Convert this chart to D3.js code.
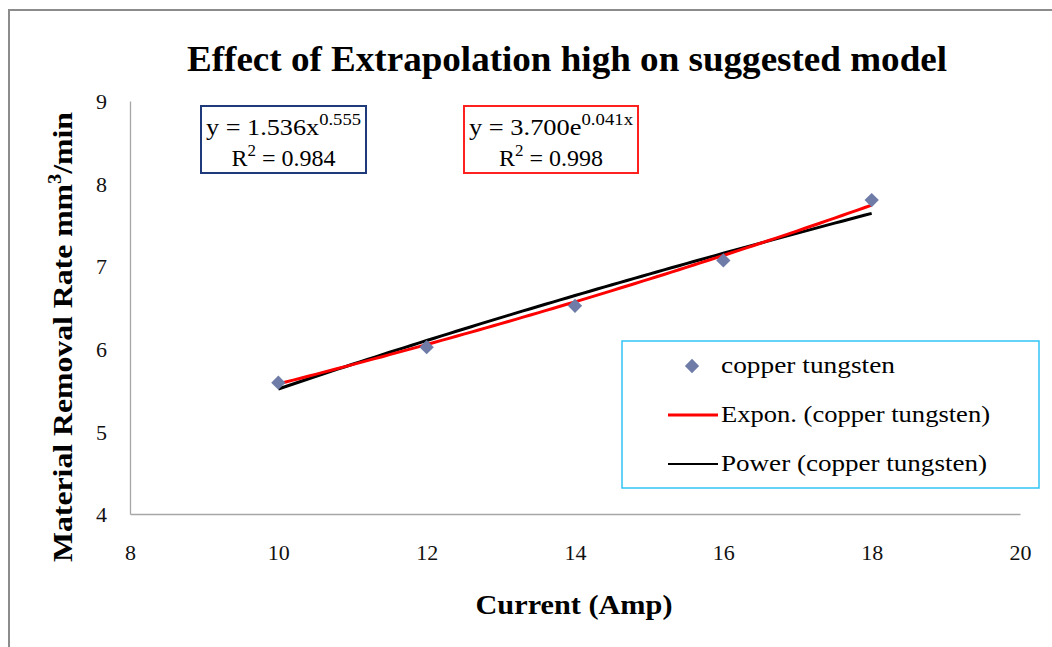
<!DOCTYPE html>
<html>
<head>
<meta charset="utf-8">
<script src="https://cdn.jsdelivr.net/npm/d3@7"></script>
<style>
  body { margin: 0; background: #fff; }
  svg { display: block; font-family: "Liberation Serif", "DejaVu Serif", serif; }
</style>
</head>
<body>
<svg id="drawing_region"></svg>
<script>
// data
const current = [10, 12, 14, 16, 18];
const mrr = [5.59, 6.02, 6.52, 7.07, 7.80];
const xTicks = [8, 10, 12, 14, 16, 18, 20];
const yTicks = [4, 5, 6, 7, 8, 9];
// trendline coefficients as printed on the chart
const expCoef = [3.700, 0.041];   // y = a e^(bx)
const powCoef = [1.536, 0.555];   // y = a x^b
const seriesName = "copper tungsten";

const width = 1052, height = 647;
const margin = {top: 101, right: 32, bottom: 133, left: 130};
const innerW = width - margin.left - margin.right;
const innerH = height - margin.top - margin.bottom;

const svg = d3.select('#drawing_region')
    .attr('width', width)
    .attr('height', height);

// chart area frame
svg.append('rect')
    .attr('x', 9).attr('y', 10)
    .attr('width', width + 20).attr('height', height + 20)
    .attr('fill', 'none')
    .attr('stroke', '#8c8c8c')
    .attr('stroke-width', 2);

const chart = svg.append('g')
    .attr('transform', `translate(${margin.left}, ${margin.top})`);

const xscale = d3.scaleLinear().domain([8, 20]).range([0, innerW]);
const yscale = d3.scaleLinear().domain([4, 9]).range([innerH, 0]);

const xaxis = d3.axisBottom(xscale).tickValues(xTicks).tickSize(0).tickPadding(30).tickFormat(d3.format('d'));
const yaxis = d3.axisLeft(yscale).tickValues(yTicks).tickSize(0).tickPadding(23).tickFormat(d3.format('d'));

const xg = chart.append('g')
    .attr('transform', `translate(0, ${innerH})`)
    .call(xaxis);
const yg = chart.append('g').call(yaxis);

[xg, yg].forEach(g => {
    g.select('.domain').attr('stroke', '#a6a6a6').attr('stroke-width', 1.3);
    g.selectAll('text')
        .attr('font-family', '"Liberation Serif", serif')
        .attr('font-size', 22)
        .attr('fill', '#111');
});
yg.selectAll('text').attr('dy', '0.35em');

// title
svg.append('text')
    .attr('x', 567).attr('y', 71)
    .attr('text-anchor', 'middle')
    .attr('font-weight', 'bold')
    .attr('font-size', 35)
    .attr('textLength', 760)
    .attr('lengthAdjust', 'spacingAndGlyphs')
    .text('Effect of Extrapolation high on suggested model');

// axis titles
svg.append('text')
    .attr('x', 574).attr('y', 614)
    .attr('text-anchor', 'middle')
    .attr('font-weight', 'bold')
    .attr('font-size', 28)
    .attr('textLength', 197)
    .attr('lengthAdjust', 'spacingAndGlyphs')
    .text('Current (Amp)');

const ylab = svg.append('text')
    .attr('transform', 'translate(72, 337) rotate(-90)')
    .attr('text-anchor', 'middle')
    .attr('font-weight', 'bold')
    .attr('font-size', 28)
    .attr('textLength', 450)
    .attr('lengthAdjust', 'spacingAndGlyphs');
ylab.append('tspan').text('Material Removal Rate mm');
ylab.append('tspan').attr('dy', -11).attr('font-size', 18).text('3');
ylab.append('tspan').attr('dy', 11).text('/min');

// trendlines
const xs = d3.range(10, 18.001, 0.1);
const line = d3.line()
    .x(d => xscale(d[0]))
    .y(d => yscale(d[1]));

chart.append('path')
    .datum(xs.map(x => [x, powCoef[0] * Math.pow(x, powCoef[1])]))
    .attr('d', line)
    .attr('fill', 'none')
    .attr('stroke', '#000')
    .attr('stroke-width', 3);

chart.append('path')
    .datum(xs.map(x => [x, expCoef[0] * Math.exp(expCoef[1] * x)]))
    .attr('d', line)
    .attr('fill', 'none')
    .attr('stroke', '#ff0000')
    .attr('stroke-width', 3);

// data points
const diamond = d3.symbol().type(d3.symbolDiamond2).size(130);
chart.selectAll('.pt')
    .data(current.map((c, i) => ({x: c, y: mrr[i]})))
    .enter()
    .append('path')
    .attr('class', 'pt')
    .attr('transform', d => `translate(${xscale(d.x)}, ${yscale(d.y)})`)
    .attr('d', diamond)
    .attr('fill', '#6f7ca8');

// equation boxes
function eqBox(x, y, w, h, color, a, sym, b, r2) {
    svg.append('rect')
        .attr('x', x).attr('y', y).attr('width', w).attr('height', h)
        .attr('fill', '#fff')
        .attr('stroke', color)
        .attr('stroke-width', 2);
    const t1 = svg.append('text')
        .attr('x', x + w / 2).attr('y', y + 29)
        .attr('text-anchor', 'middle')
        .attr('font-size', 24)
        .attr('textLength', w - 10)
        .attr('lengthAdjust', 'spacingAndGlyphs');
    t1.append('tspan').text(`y = ${a}${sym}`);
    t1.append('tspan').attr('dy', -10).attr('font-size', 17).text(b);
    const t2 = svg.append('text')
        .attr('x', x + w / 2).attr('y', y + 60)
        .attr('text-anchor', 'middle')
        .attr('font-size', 24);
    t2.append('tspan').text('R');
    t2.append('tspan').attr('dy', -10).attr('font-size', 17).text('2');
    t2.append('tspan').attr('dy', 10).text(` = ${r2}`);
}
eqBox(201, 106, 165, 67, '#1f3a7a', powCoef[0].toFixed(3), 'x', powCoef[1].toFixed(3), '0.984');
eqBox(464, 106, 174, 67, '#ff2020', expCoef[0].toFixed(3), 'e', `${expCoef[1].toFixed(3)}x`, '0.998');

// legend
const lg = svg.append('g');
lg.append('rect')
    .attr('x', 622).attr('y', 341).attr('width', 417).attr('height', 147)
    .attr('fill', '#fff')
    .attr('stroke', '#33c3f5')
    .attr('stroke-width', 1.5);
lg.append('path')
    .attr('transform', 'translate(692, 366)')
    .attr('d', diamond)
    .attr('fill', '#6f7ca8');
function legText(y, txt, len) {
    lg.append('text').attr('x', 721).attr('y', y).attr('font-size', 23)
        .attr('textLength', len).attr('lengthAdjust', 'spacingAndGlyphs')
        .text(txt);
}
legText(373, seriesName, 174);
lg.append('line').attr('x1', 668).attr('x2', 718).attr('y1', 415).attr('y2', 415)
    .attr('stroke', '#ff0000').attr('stroke-width', 3);
legText(422, `Expon. (${seriesName})`, 269);
lg.append('line').attr('x1', 668).attr('x2', 718).attr('y1', 464).attr('y2', 464)
    .attr('stroke', '#000').attr('stroke-width', 2);
legText(471, `Power (${seriesName})`, 266);
</script>
</body>
</html>
